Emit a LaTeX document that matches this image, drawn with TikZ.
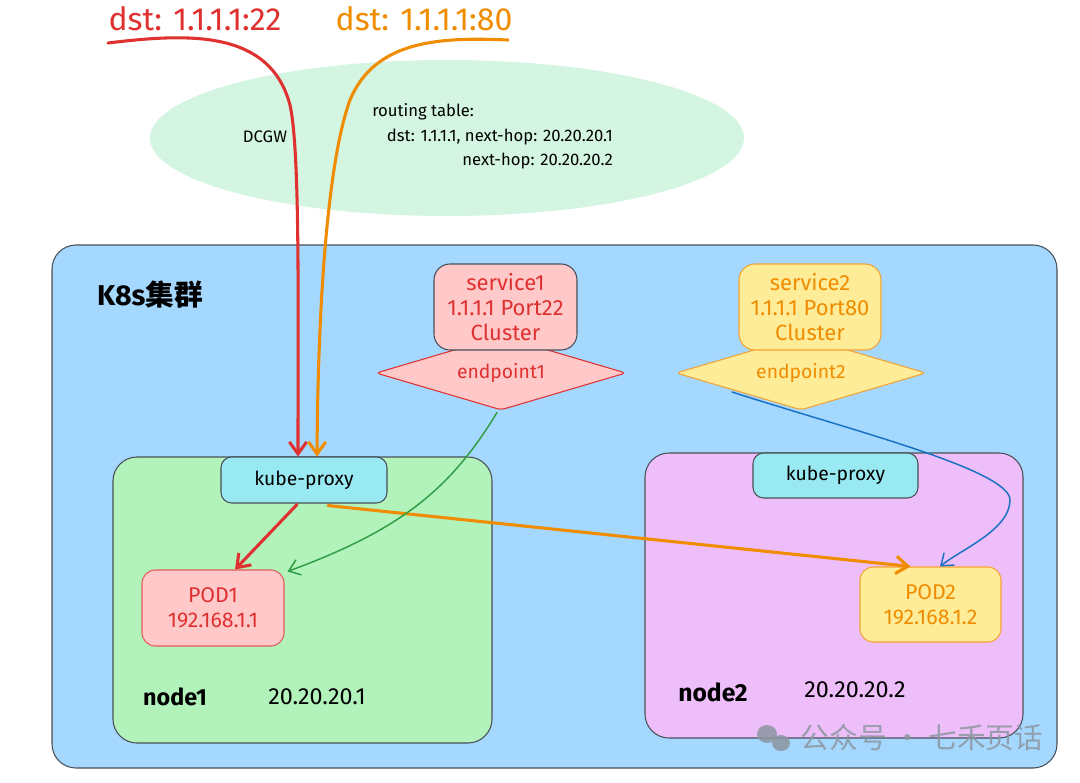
\documentclass[tikz,border=0pt]{standalone}
\usepackage{fontspec}
\setmainfont{Fira Sans}
\newfontfamily\cjk{Noto Sans CJK SC}
\usetikzlibrary{shapes.geometric,arrows.meta,calc}
\definecolor{bgblue}{HTML}{A5D8FF}
\definecolor{nodegreen}{HTML}{B2F2BB}
\definecolor{nodepurple}{HTML}{EEBEFA}
\definecolor{kpcyan}{HTML}{99E9F2}
\definecolor{pinkfill}{HTML}{FFC9C9}
\definecolor{yellowfill}{HTML}{FFEC99}
\definecolor{ellgreen}{HTML}{D3F5E1}
\definecolor{myred}{HTML}{E03131}
\definecolor{myorange}{HTML}{F08C00}
\definecolor{mygreen}{HTML}{2F9E44}
\definecolor{myblue}{HTML}{1971C2}
\definecolor{strk}{HTML}{495057}
\definecolor{wmgray}{HTML}{8C96A0}
\newcommand\myfs[2]{\fontsize{#1}{#2}\selectfont}
\begin{document}
\begin{tikzpicture}[x=0.75pt,y=-0.75pt,
  bigbox/.style={draw=strk, line width=0.8pt, rounded corners=18pt, inner sep=0pt},
  smallbox/.style={draw=strk, line width=0.8pt, rounded corners=8pt, inner sep=0pt, align=center, font=\myfs{14.5}{18.5}},
  podbox/.style={line width=0.8pt, rounded corners=10pt, inner sep=0pt, align=center, font=\myfs{16}{19}},
  epshape/.style={diamond, line width=0.8pt, rounded corners=3pt, inner sep=0pt, shape aspect=3.4, minimum width=187.5pt, minimum height=55.5pt, font=\myfs{14.5}{16}},
  lbl/.style={inner sep=0pt, font=\myfs{12.5}{16}},
  thickarrow/.style={line width=2.3pt, line cap=round, -{Straight Barb[length=9pt,width=13pt]}},
  thinarrow/.style={line width=1.1pt, line cap=round, -{Straight Barb[length=8pt,width=12pt]}}
]
\useasboundingbox (0,0) rectangle (1080,782);
\fill[white] (0,0) rectangle (1080,782);

% cluster
\node[bigbox, fill=bgblue, minimum width=753.75pt, minimum height=392.25pt] (k8s) at (554.5,506.5) {};
\node[inner sep=0pt, font=\myfs{21.5}{24}\bfseries] (title) at (150,295) {K8s{\cjk 集群}};

% DCGW ellipse
\node[ellipse, fill=ellgreen, minimum width=445.5pt, minimum height=117pt, inner sep=0pt] (dcgw) at (447,138) {};
\node[lbl] (dcgwlbl) at (265,137) {DCGW};
\node[lbl, anchor=west] (rt1) at (372,112) {routing table:};
\node[lbl, anchor=east] (rt2) at (613,137) {dst: 1.1.1.1, next-hop: 20.20.20.1};
\node[lbl, anchor=east] (rt3) at (613,161) {next-hop: 20.20.20.2};

% nodes
\node[bigbox, fill=nodegreen, minimum width=284.25pt, minimum height=214.5pt] (n1) at (302.5,600) {};
\node[bigbox, fill=nodepurple, minimum width=283.5pt, minimum height=213.75pt] (n2) at (834,595.5) {};

% endpoints and services
\node[epshape, draw=myred, fill=pinkfill, text=myred] (ep1) at (501,373) {\raisebox{2pt}{endpoint1}};
\node[epshape, draw=myorange!80, fill=yellowfill, text=myorange] (ep2) at (801,373) {\raisebox{2pt}{endpoint2}};
\node[smallbox, font=\myfs{16.5}{18.5}, rounded corners=12pt, fill=pinkfill, text=myred, minimum width=107.25pt, minimum height=64.5pt] (svc1) at (505.5,307) {service1\\1.1.1.1 Port22\\Cluster};
\node[smallbox, font=\myfs{16.5}{18.5}, rounded corners=12pt, draw=myorange!80, fill=yellowfill, text=myorange, minimum width=106.5pt, minimum height=64.5pt] (svc2) at (810,307) {service2\\1.1.1.1 Port80\\Cluster};

% kube-proxies
\node[smallbox, fill=kpcyan, minimum width=124.5pt, minimum height=34.5pt] (kp1) at (304,480) {kube-proxy};
\node[smallbox, fill=kpcyan, minimum width=123.75pt, minimum height=33.75pt] (kp2) at (835.5,475.5) {kube-proxy};

% pods
\node[podbox, draw=myred!80, fill=pinkfill, text=myred, minimum width=106.5pt, minimum height=57pt] (pod1) at (213,608) {POD1\\192.168.1.1};
\node[podbox, draw=myorange!80, fill=yellowfill, text=myorange, minimum width=105.75pt, minimum height=56.25pt] (pod2) at (930.5,604.5) {POD2\\192.168.1.2};

% node labels
\node[inner sep=0pt, font=\myfs{17.5}{20}\bfseries] (n1lbl) at (175,697) {node1};
\node[inner sep=0pt, font=\myfs{17.5}{20}] (n1ip) at (317,697) {20.20.20.1};
\node[inner sep=0pt, font=\myfs{18.5}{20}\bfseries] (n2lbl) at (713,692) {node2};
\node[inner sep=0pt, font=\myfs{17.5}{20}] (n2ip) at (855,690) {20.20.20.2};

% top labels
\node[inner sep=0pt, text=myred, font=\myfs{24}{26}] (dst1) at (195,19) {dst: 1.1.1.1:22};
\node[inner sep=0pt, text=myorange, font=\myfs{24}{26}] (dst2) at (424,19) {dst: 1.1.1.1:80};
\coordinate (r0) at (108,43);
\coordinate (o0) at (508,40);

% arrows
\draw[thickarrow, myred] (r0) .. controls (190,33) and (270,30) .. (290,105)
   .. controls (300,150) and (298,300) .. ($(kp1.north)+(-6,0)$);
\draw[thickarrow, myorange] (o0) .. controls (440,37) and (375,40) .. (350,100)
   .. controls (328,160) and (318,300) .. ($(kp1.north)+(13,0)$);
\draw[thickarrow, myred] ($(kp1.south)+(-7,1)$) -- ($(pod1.north)+(22,0)$);
\draw[thickarrow, myorange] ($(kp1.south)+(24,2)$) -- ($(pod2.north)+(-20,0)$);
\draw[thinarrow, mygreen] ($(ep1.south)+(-4,2)$) .. controls (450,490) and (400,530) .. ($(pod1.north east)+(3,2)$);
\draw[thinarrow, myblue] ($(ep2.center)+(-69,19)$) .. controls (850,430) and (1010,470) .. (1010,500)
   .. controls (1010,530) and (960,550) .. ($(pod2.north)+(9.5,0)$);

% watermark
\node[inner sep=0pt, text=wmgray, opacity=0.85, font=\cjk\myfs{21.5}{24}] (wm) at (922,738) {公众号 · 七禾页话};
\fill[wmgray, opacity=0.85] (767,734) ellipse (10 and 9);
\fill[wmgray, opacity=0.85] (781,743) ellipse (9 and 8);
\end{tikzpicture}
\end{document}
